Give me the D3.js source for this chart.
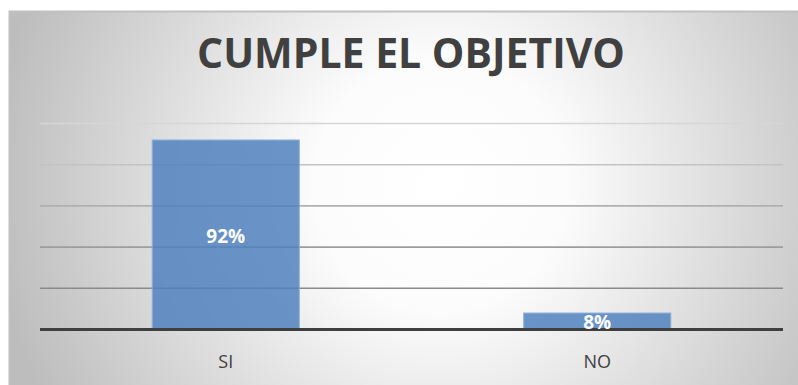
<!DOCTYPE html>
<html>
<head>
<meta charset="utf-8">
<script src="https://cdn.jsdelivr.net/npm/d3@7"></script>
<style>
  html, body { margin: 0; padding: 0; background: #ffffff; }
  svg { display: block; }
</style>
</head>
<body>
<svg id="chart" width="798" height="385"></svg>
<script>
// Chart data
const title = "CUMPLE EL OBJETIVO";
const categories = ["SI", "NO"];
const values = [92, 8];               // percent
const gridTicks = [20, 40, 60, 80, 100];

const svg = d3.select("#chart");

// Plot area
const plot = { left: 40, right: 783, top: 123.5, bottom: 329.5 };

const defs = svg.append("defs");
const bg = defs.append("radialGradient")
  .attr("id", "bgGrad")
  .attr("gradientUnits", "userSpaceOnUse")
  .attr("cx", 440).attr("cy", 185).attr("r", 450);
bg.append("stop").attr("offset", 0).attr("stop-color", "#ffffff");
bg.append("stop").attr("offset", 0.28).attr("stop-color", "#fcfcfc");
bg.append("stop").attr("offset", 1).attr("stop-color", "#bdbdbd");

// Chart frame with radial background
svg.append("rect")
  .attr("x", 9.5).attr("y", 11.5)
  .attr("width", 820).attr("height", 400)
  .attr("fill", "url(#bgGrad)")
  .attr("stroke", "#c0c0c0")
  .attr("stroke-width", 2);

const x = d3.scaleBand()
  .domain(categories)
  .range([plot.left, plot.right])
  .paddingInner(0.604)
  .paddingOuter(0.302);

const y = d3.scaleLinear()
  .domain([0, 100])
  .range([plot.bottom, plot.top]);

// Gridlines get darker toward the base
const gridColor = d3.scaleLinear()
  .domain([20, 100])
  .range(["#8a8a8a", "#d6d6d6"]);

svg.append("g")
  .selectAll("line")
  .data(gridTicks)
  .join("line")
  .attr("x1", plot.left).attr("x2", plot.right)
  .attr("y1", d => y(d)).attr("y2", d => y(d))
  .attr("stroke", d => gridColor(d))
  .attr("stroke-width", 1.6);

// Bars
svg.append("g")
  .selectAll("rect")
  .data(values)
  .join("rect")
  .attr("x", (d, i) => x(categories[i]))
  .attr("width", x.bandwidth())
  .attr("y", d => y(d))
  .attr("height", d => y(0) - y(d))
  .attr("fill", "#4f81bd")
  .attr("fill-opacity", 0.84)
  .attr("stroke", "#8fb1da")
  .attr("stroke-width", 1);

// Base axis line
svg.append("line")
  .attr("x1", plot.left).attr("x2", plot.right)
  .attr("y1", y(0)).attr("y2", y(0))
  .attr("stroke", "#3f3f3f")
  .attr("stroke-width", 3);

// Value labels centered in bars
svg.append("g")
  .selectAll("text")
  .data(values)
  .join("text")
  .attr("x", (d, i) => x(categories[i]) + x.bandwidth() / 2)
  .attr("y", d => (y(d) + y(0)) / 2 + 8)
  .attr("text-anchor", "middle")
  .attr("font-family", "'Open Sans', sans-serif")
  .attr("font-weight", "bold")
  .attr("font-size", 19)
  .attr("fill", "#ffffff")
  .text(d => d + "%");

// Category axis
const xAxis = svg.append("g")
  .attr("transform", `translate(0,${plot.bottom})`)
  .call(d3.axisBottom(x).tickSize(0).tickPadding(26));
xAxis.select(".domain").remove();
xAxis.selectAll("text")
  .attr("font-family", "'Open Sans', sans-serif")
  .attr("font-size", 18)
  .attr("fill", "#404040");

// Title
const t = svg.append("text")
  .attr("x", 411)
  .attr("y", 68)
  .attr("text-anchor", "middle")
  .attr("font-family", "'Open Sans', sans-serif")
  .attr("font-weight", "bold")
  .attr("font-size", 38)
  .attr("fill", "#404040")
  .text(title);
const tw = t.node().getComputedTextLength();
if (tw > 0) t.attr("font-size", 38 * 428 / tw);
</script>
</body>
</html>
